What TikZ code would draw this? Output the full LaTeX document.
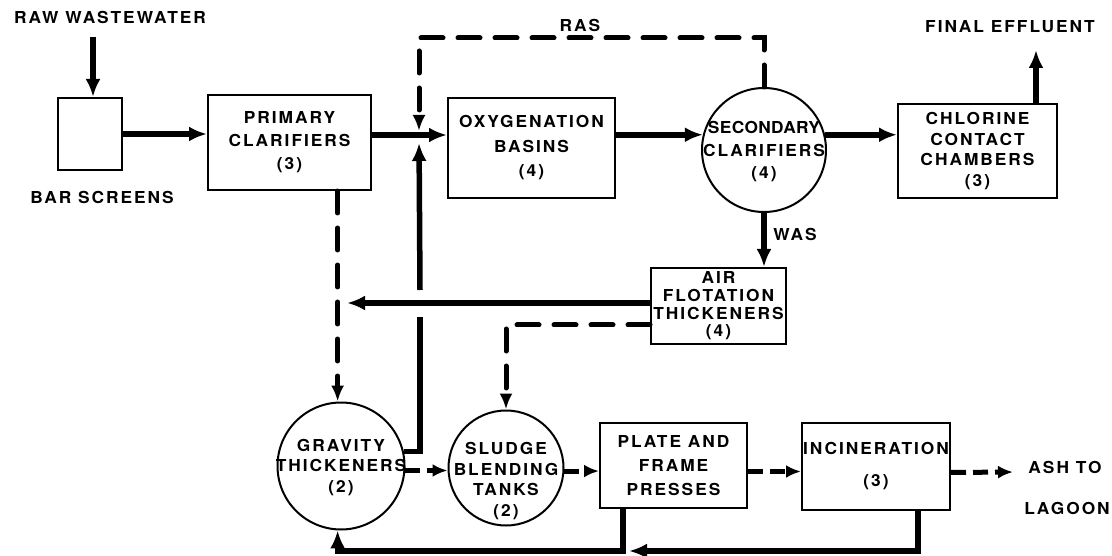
\documentclass[tikz,border=0pt]{standalone}
\usepackage{fontspec}
\setmainfont{TeX Gyre Heros}[FakeStretch=1.05,LetterSpace=12]
\usetikzlibrary{arrows.meta}
\newcommand\myfs[1]{\fontsize{16.5}{#1}\selectfont\bfseries}
\begin{document}
\begin{tikzpicture}[x=1pt,y=-1pt,
  lbl/.style={font=\myfs{18}, inner sep=0pt, align=center},
  box/.style={draw, line width=2pt, inner sep=1pt, align=center},
  tank/.style={draw, circle, line width=2pt, inner sep=0pt},
  pipe/.style={line width=5.5pt},
  flow/.style={line width=5.5pt, -{Latex[length=18pt,width=15pt]}},
  sflow/.style={line width=5pt, line cap=round, dash pattern=on 22pt off 15pt, -{Latex[length=16pt,width=13pt]}},
  shortflow/.style={line width=5pt, dash pattern=on 15pt off 7pt, -{Latex[length=15pt,width=13pt]}}
]
\useasboundingbox (0,0) rectangle (1112,556);

% nodes
\node[box, minimum width=64pt, minimum height=72pt] (bar) at (90,134) {};
\node[lbl] (raw) at (110,17) {RAW WASTEWATER};
\node[lbl] (barl) at (102,197) {BAR SCREENS};
\node[box, minimum width=163pt, minimum height=95pt, font=\myfs{23}] (prim) at (289.5,142.5) {PRIMARY\\CLARIFIERS\\(3)};
\node[box, minimum width=167pt, minimum height=100pt, font=\myfs{24.5}] (oxy) at (531.5,148) {OXYGENATION\\BASINS\\(4)};
\node[tank, minimum size=124pt] (sec) at (764,150) {};
\node[lbl, font=\myfs{22.5}] (sect) at (764,152) {{\addfontfeature{LetterSpace=2}SECONDARY}\\CLARIFIERS\\(4)};
\node[box, minimum width=159pt, minimum height=94pt, font=\myfs{20.5}] (chl) at (977.5,151) {CHLORINE\\CONTACT\\CHAMBERS\\(3)};
\node[box, minimum width=135pt, minimum height=76pt, font=\myfs{17.7}] (air) at (718.5,306) {AIR\\FLOTATION\\THICKENERS\\(4)};
\node[tank, minimum size=127pt] (grav) at (341,466) {};
\node[lbl, font=\myfs{20.5}] (gravt) at (341,467.5) {GRAVITY\\THICKENERS\\(2)};
\node[tank, minimum size=115pt] (sludge) at (506,468) {};
\node[lbl, font=\myfs{20.7}] (sludget) at (506,481) {SLUDGE\\BLENDING\\TANKS\\(2)};
\node[box, minimum width=147pt, minimum height=85pt, font=\myfs{24}] (plate) at (673.5,465.5) {PLATE AND\\FRAME\\PRESSES};
\node[box, minimum width=148pt, minimum height=87pt, font=\myfs{32}] (inc) at (876,466.5) {INCINERATION\\(3)};
\node[lbl] (ras) at (580,25) {RAS};
\node[lbl] (was) at (795,234) {WAS};
\node[lbl] (final) at (1010,27) {FINAL EFFLUENT};
\node[lbl] (ash) at (1065,467) {ASH TO};
\node[lbl] (lagoon) at (1067,508) {LAGOON};

% helper coordinates
\coordinate (jn) at (419,135);
\coordinate (rasc) at (419,38);
\coordinate (rawin) at (93,37);
\coordinate (fe) at (1036,50);
\coordinate (ar) at (347,303);
\coordinate (gapt) at (420,290);
\coordinate (gapb) at (420,317);
\coordinate (bl) at (623,551);
\coordinate (ib) at (918,551);
\coordinate (ashin) at (1013,472);

% connectors
\draw[flow] (rawin) -- (rawin |- bar.north);
\draw[flow] (bar.east) -- (bar.east -| prim.west);
\draw[flow] (jn -| prim.east) -- (jn -| oxy.west);
\draw[sflow, shorten >=4pt] (sec.north) |- (rasc) -- (jn);
\draw[pipe] (grav.13) -| (gapb);
\draw[flow, shorten >=8pt] (gapt) -- (jn);
\draw[flow] (sec.166 -| oxy.east) -- (sec.166);
\draw[flow] (sec.14) -- (sec.14 -| chl.west);
\draw[flow] (fe |- chl.north) -- (fe);
\draw[flow] (sec.south) -- (sec.south |- air.north);
\draw[flow] (ar -| air.west) -- (ar);
\draw[sflow] ([yshift=-19pt]air.west) -| (sludge.north);
\draw[sflow] (prim.south -| grav.93) -- (grav.93);
\draw[shortflow] (grav.-4) -- (grav.-4 -| sludge.west);
\draw[shortflow] (sludge.-3) -- (sludge.-3 -| plate.west);
\draw[shortflow] ([yshift=-6pt]plate.east) -- ([yshift=-6pt]plate.east -| inc.west);
\draw[shortflow] ([yshift=-6pt]inc.east) -- (ashin);
\draw[flow] (bl |- plate.south) -- (bl) -| (grav.267);
\draw[flow] (ib |- inc.south) -- (ib) -- ([xshift=6pt]bl);
\end{tikzpicture}
\end{document}
